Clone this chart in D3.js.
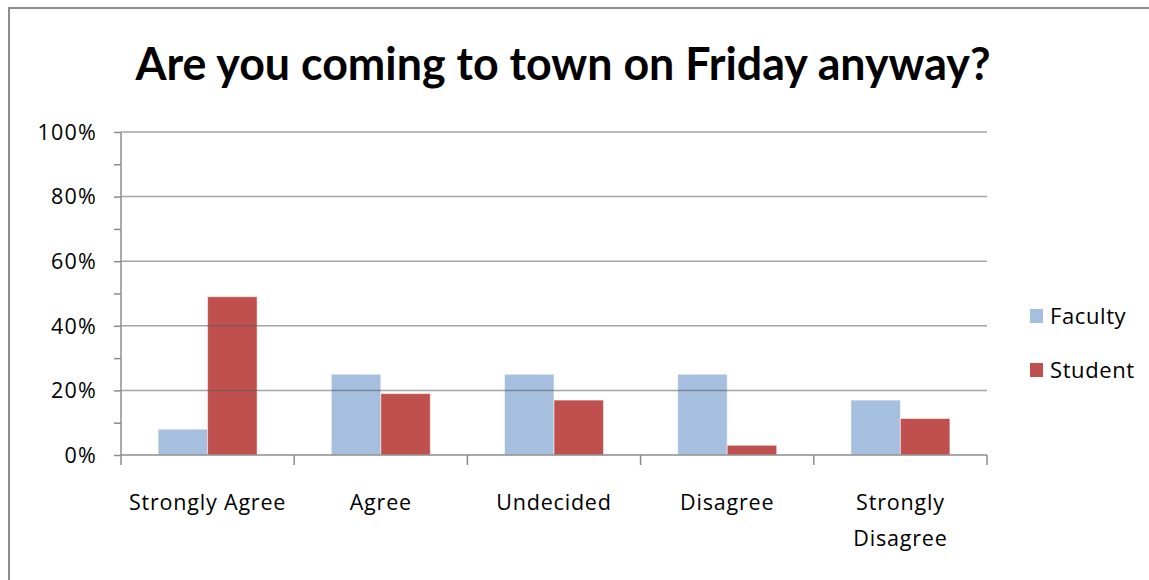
<!DOCTYPE html>
<html><head><meta charset="utf-8">
<script src="https://cdn.jsdelivr.net/npm/d3@7"></script>
<style>html,body{margin:0;padding:0;background:#fff;}svg{display:block;}</style>
</head><body>
<script>
const title = "Are you coming to town on Friday anyway?";
const categories = ["Strongly Agree", "Agree", "Undecided", "Disagree", "Strongly Disagree"];
const seriesNames = ["Faculty", "Student"];
const faculty = [0.08, 0.25, 0.25, 0.25, 0.17];
const student = [0.49, 0.19, 0.17, 0.03, 0.113];
const yTicks = [0, 0.2, 0.4, 0.6, 0.8, 1.0];
const colors = ["#A7BFDE", "#C0504D"];

(function () {
const W = 1149, H = 580;
const svg = d3.select("body").append("svg").attr("width", W).attr("height", H);
const font = "Lato, 'Open Sans', sans-serif";
const lfont = "'Open Sans', Lato, sans-serif";

// outer frame (only top/left visible)
svg.append("rect").attr("x", 9).attr("y", 8).attr("width", W + 20).attr("height", H + 20)
  .attr("fill", "#fff").attr("stroke", "#8c8c8c").attr("stroke-width", 2);

const pl = 121, pr = 987, pt = 132, pb = 455;
const x = d3.scaleBand().domain(categories).range([pl, pr]).paddingInner(0).paddingOuter(0);
const y = d3.scaleLinear().domain([0, 1]).range([pb, pt]);
const bw = x.bandwidth() / 3.5;
const xs = d3.scaleBand().domain(seriesNames).range([x.bandwidth()/2 - bw, x.bandwidth()/2 + bw]);

// title
svg.append("text").attr("x", 563).attr("y", 80).attr("text-anchor", "middle")
  .attr("font-family", font).attr("font-weight", "bold").attr("font-size", 46)
  .attr("textLength", 855).attr("lengthAdjust", "spacingAndGlyphs")
  .attr("fill", "#000").text(title);

// bars
const data = [faculty, student];
const g = svg.append("g");
categories.forEach((c, i) => {
  seriesNames.forEach((s, j) => {
    const v = data[j][i];
    g.append("rect")
      .attr("x", x(c) + xs(s)).attr("y", y(v))
      .attr("width", xs.bandwidth()).attr("height", y(0) - y(v))
      .attr("fill", colors[j]).attr("stroke", "rgba(255,255,255,0.5)").attr("stroke-width", 1);
  });
});

// gridlines (drawn on top, translucent)
svg.append("g").selectAll("line").data(yTicks.filter(d => d > 0)).join("line")
  .attr("x1", pl).attr("x2", pr).attr("y1", d => y(d)).attr("y2", d => y(d))
  .attr("stroke", "rgba(90,90,90,0.55)").attr("stroke-width", 1.5);

// y axis
const yAxis = d3.axisLeft(y).tickValues(d3.range(0, 1.0001, 0.1)).tickSize(7)
  .tickFormat(d => "");
const ya = svg.append("g").attr("transform", `translate(${pl},0)`).call(yAxis);
ya.selectAll("path,line").attr("stroke", "#8c8c8c").attr("stroke-width", 1.5);
ya.select(".domain").attr("d", `M0,${pt}V${pb}`);
svg.append("g").selectAll("text").data(yTicks).join("text")
  .attr("x", 97).attr("y", d => y(d)).attr("dy", "0.36em").attr("text-anchor", "end")
  .attr("font-family", lfont).attr("font-size", 21.5).attr("letter-spacing", 1.2).attr("fill", "#000")
  .text(d => d3.format(".0%")(d));

// x axis
const xa = svg.append("g").attr("transform", `translate(0,${pb})`)
  .call(d3.axisBottom(x).tickSize(0).tickFormat(""));
xa.selectAll("path,line").attr("stroke", "#8c8c8c").attr("stroke-width", 1.5);
xa.select(".domain").attr("d", `M${pl},0H${pr}`);
const bounds = categories.map(c => x(c)).concat([pr]);
svg.append("g").selectAll("line").data(bounds).join("line")
  .attr("x1", d => d).attr("x2", d => d).attr("y1", pb).attr("y2", pb + 10)
  .attr("stroke", "#8c8c8c").attr("stroke-width", 1.5);

const labelLines = {"Strongly Disagree": ["Strongly", "Disagree"]};
categories.forEach(c => {
  const lines = labelLines[c] || [c];
  const t = svg.append("text").attr("text-anchor", "middle")
    .attr("font-family", lfont).attr("font-size", 21.5).attr("letter-spacing", 0.8).attr("fill", "#000");
  lines.forEach((l, k) => {
    t.append("tspan").attr("x", x(c) + x.bandwidth()/2).attr("y", 510 + k * 36).text(l);
  });
});

// legend
const legY = [316, 370];
seriesNames.forEach((s, j) => {
  svg.append("rect").attr("x", 1030).attr("y", legY[j] - 7).attr("width", 13).attr("height", 14)
    .attr("fill", colors[j]);
  svg.append("text").attr("x", 1050).attr("y", legY[j]).attr("dy", "0.36em")
    .attr("font-family", lfont).attr("font-size", 22).attr("letter-spacing", 0.6).attr("fill", "#000").text(s);
});
})();
</script>
</body></html>
